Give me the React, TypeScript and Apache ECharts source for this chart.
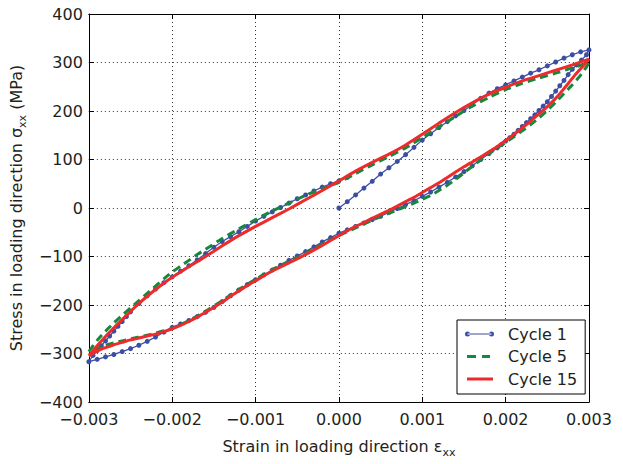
import React, { useEffect, useRef } from "react";
import * as echarts from "echarts";

// Strain (x) / stress MPa (y) readings, in path order
const cycle1: number[][] = [
  [0, 0], [0.0001, 13], [0.0002, 27], [0.0003, 41], [0.0004, 55], [0.0005, 70], [0.0006, 83], [0.0007, 96],
  [0.0008, 110], [0.0009, 125], [0.001, 140], [0.0011, 153], [0.0012, 166], [0.0013, 178], [0.0014, 190],
  [0.0015, 201], [0.0016, 213], [0.0017, 226], [0.0018, 237], [0.0019, 246], [0.002, 254], [0.0021, 262],
  [0.0022, 270], [0.0023, 278], [0.0024, 285], [0.0025, 293], [0.0026, 301], [0.0027, 309], [0.0028, 316],
  [0.0029, 322], [0.003, 326],
  [0.00297, 316], [0.00291, 305], [0.00285, 295], [0.0028, 286], [0.00275, 275], [0.0027, 263], [0.00265, 252],
  [0.0026, 241], [0.00255, 230], [0.0025, 219], [0.00245, 210], [0.0024, 201], [0.00235, 192], [0.0023, 184],
  [0.00225, 176], [0.0022, 168], [0.00215, 160], [0.0021, 152], [0.00205, 145], [0.002, 138], [0.00195, 131],
  [0.0019, 124], [0.0018, 112], [0.0017, 100], [0.0016, 87], [0.0015, 75], [0.0014, 64], [0.0013, 53],
  [0.0012, 43], [0.0011, 33], [0.001, 24], [0.0009, 15], [0.0008, 7], [0.0007, -1], [0.0006, -9],
  [0.0005, -17], [0.0004, -24], [0.0003, -31], [0.0002, -38], [0.0001, -45], [0, -52],
  [-0.0001, -61], [-0.0002, -70], [-0.0003, -80], [-0.0004, -90], [-0.0005, -99], [-0.0006, -108],
  [-0.0007, -118], [-0.0008, -128], [-0.0009, -138], [-0.001, -148], [-0.0011, -158], [-0.0012, -169],
  [-0.0013, -181], [-0.0014, -193], [-0.0015, -205], [-0.0016, -215], [-0.0017, -224], [-0.0018, -232],
  [-0.0019, -239], [-0.002, -246], [-0.0021, -256], [-0.0022, -266], [-0.0023, -275], [-0.0024, -283],
  [-0.0025, -290], [-0.0026, -296], [-0.0027, -302], [-0.0028, -307], [-0.0029, -312], [-0.003, -317],
  [-0.00295, -304], [-0.0029, -294], [-0.00285, -284], [-0.0028, -274], [-0.00275, -264], [-0.0027, -254],
  [-0.00265, -244], [-0.0026, -234], [-0.00255, -224], [-0.0025, -214], [-0.0024, -197], [-0.0023, -181],
  [-0.0022, -167], [-0.0021, -154], [-0.002, -142], [-0.0019, -130], [-0.0018, -119], [-0.0017, -107],
  [-0.0016, -94], [-0.0015, -81], [-0.0014, -69], [-0.0013, -59], [-0.0012, -49], [-0.0011, -38],
  [-0.001, -27], [-0.0009, -17], [-0.0008, -8], [-0.0007, 1], [-0.0006, 10], [-0.0005, 19], [-0.0004, 27],
  [-0.0003, 35], [-0.0002, 43], [-0.0001, 50], [0, 56], [0.0001, 63],
];

const cycle5: number[][] = [
  [-0.003, -296], [-0.0029, -273], [-0.0028, -254], [-0.0027, -237], [-0.0026, -221], [-0.0025, -206],
  [-0.0024, -191], [-0.0023, -176], [-0.0022, -161], [-0.0021, -146], [-0.002, -132], [-0.0019, -120],
  [-0.0018, -108], [-0.0017, -96], [-0.0016, -85], [-0.0014, -63], [-0.0012, -43], [-0.001, -24],
  [-0.0008, -6], [-0.0006, 10], [-0.0004, 26], [-0.0002, 40], [0, 53], [0.0002, 71], [0.0004, 89],
  [0.0006, 106], [0.0008, 124], [0.001, 145], [0.0012, 167], [0.0014, 189], [0.0016, 210], [0.0018, 228],
  [0.002, 244], [0.0022, 257], [0.0024, 268], [0.0026, 278], [0.0028, 289], [0.003, 300],
  [0.00297, 291], [0.0029, 274], [0.0028, 254], [0.0027, 236], [0.0026, 218], [0.0025, 201], [0.0024, 186],
  [0.0023, 172], [0.0022, 159], [0.0021, 147], [0.002, 135], [0.0019, 124], [0.0018, 112], [0.0017, 99],
  [0.0016, 86], [0.0015, 72], [0.0014, 59], [0.0013, 47], [0.0012, 36], [0.0011, 26], [0.001, 18],
  [0.0009, 10], [0.0008, 3], [0.0007, -4], [0.0006, -11], [0.0005, -18], [0.0004, -25], [0.0003, -33],
  [0.0002, -41], [0.0001, -49], [0, -57], [-0.0002, -74], [-0.0004, -93], [-0.0006, -110], [-0.0008, -127],
  [-0.001, -147], [-0.0012, -168], [-0.0014, -191], [-0.0016, -213], [-0.0018, -232], [-0.002, -248],
  [-0.0022, -258], [-0.0024, -266], [-0.0026, -274], [-0.0028, -283], [-0.003, -296],
];

const cycle15: number[][] = [
  [-0.003, -305], [-0.0029, -284], [-0.0028, -265], [-0.0027, -247], [-0.0026, -230], [-0.0025, -213],
  [-0.0024, -197], [-0.0023, -182], [-0.0022, -168], [-0.0021, -155], [-0.002, -143], [-0.0019, -132],
  [-0.0018, -121], [-0.0017, -111], [-0.0016, -100], [-0.0014, -78], [-0.0012, -57], [-0.001, -38],
  [-0.0008, -20], [-0.0006, -2], [-0.0004, 17], [-0.0002, 36], [0, 56], [0.0002, 76], [0.0004, 94],
  [0.0006, 111], [0.0008, 130], [0.001, 152], [0.0012, 175], [0.0014, 197], [0.0016, 217], [0.0018, 235],
  [0.002, 249], [0.0022, 262], [0.0024, 273], [0.0026, 284], [0.0028, 295], [0.003, 307],
  [0.00293, 293], [0.00285, 278], [0.00277, 261], [0.00269, 244], [0.0026, 226], [0.0025, 209],
  [0.0024, 194], [0.0023, 179], [0.0022, 165], [0.0021, 152], [0.002, 139], [0.0019, 127], [0.0018, 116],
  [0.0017, 105], [0.0016, 95], [0.0015, 85], [0.0014, 74], [0.0013, 63], [0.0012, 52], [0.0011, 42],
  [0.001, 32], [0.0009, 22], [0.0008, 13], [0.0007, 4], [0.0006, -5], [0.0005, -13], [0.0004, -21],
  [0.0003, -30], [0.0002, -38], [0.0001, -47], [0, -57], [-0.0002, -77], [-0.0004, -96], [-0.0006, -113],
  [-0.0008, -130], [-0.001, -150], [-0.0011, -160], [-0.0012, -171], [-0.0013, -182], [-0.0014, -194],
  [-0.0015, -205], [-0.0016, -215], [-0.0017, -225], [-0.0018, -234], [-0.0019, -242], [-0.002, -249],
  [-0.0021, -255], [-0.0022, -260], [-0.0023, -264], [-0.0024, -268], [-0.0025, -272], [-0.0026, -277],
  [-0.0027, -282], [-0.0028, -288], [-0.0029, -295], [-0.003, -305],
];

const seriesNames = ["Cycle 1", "Cycle 5", "Cycle 15"];
const xTitle = "Strain in loading direction ε";
const yTitle = "Stress in loading direction σ";

const BLUE = "#3b4ea3";
const GREEN = "#16873c";
const RED = "#ee2b2b";
const FONT = "DejaVu Sans";
const TXT = "#231f20";

const BOX = "M0,0 L0,0 M38,8 L38,8 ";
const ICON_BLUE =
  "path://" + BOX +
  "M0,4 A2.5,2.5 0 1 0 5,4 A2.5,2.5 0 1 0 0,4 Z M24,4 A2.5,2.5 0 1 0 29,4 A2.5,2.5 0 1 0 24,4 Z M2.5,3.4 L26.5,3.4 L26.5,4.6 L2.5,4.6 Z";
const ICON_GREEN = "path://" + BOX + "M2,2.5 L11,2.5 L11,5.5 L2,5.5 Z M17,2.5 L25,2.5 L25,5.5 L17,5.5 Z";
const ICON_RED = "path://" + BOX + "M2,2.5 L28,2.5 L28,5.5 L2,5.5 Z";

const minus = (s: string) => s.replace("-", "\u2212");

export default function App() {
  const ref = useRef<HTMLDivElement>(null);
  useEffect(() => {
    if (!ref.current) return;
    const chart = echarts.init(ref.current, null, { renderer: "svg" });
    const splitLine = { show: true, lineStyle: { type: [1, 3] as any, color: "#333", width: 1 } };
    const tick = { show: true, inside: true, length: 5, lineStyle: { color: "#000" } };
    const line = { show: true, onZero: false, lineStyle: { color: "#000", width: 1 } };
    const rich = {
      a: { fontSize: 16, color: TXT, fontFamily: FONT, verticalAlign: "top", lineHeight: 18 },
      s: { fontSize: 11, color: TXT, fontFamily: FONT, verticalAlign: "top", lineHeight: 12, padding: [9, 0, 0, 0] },
    };
    chart.setOption({
      animation: false,
      textStyle: { fontFamily: FONT },
      grid: { left: 86, top: 14, width: 503, height: 388 },
      xAxis: [
        {
          type: "value", min: -0.003, max: 0.003, interval: 0.001, position: "bottom",
          axisLine: line, axisTick: tick, splitLine,
          axisLabel: {
            margin: 9, fontSize: 16, color: TXT, fontFamily: FONT,
            formatter: (v: number) => minus(Math.abs(v) < 1e-12 ? "0.000" : v.toFixed(3)),
          },
          name: `{a|${xTitle}}{s|xx}`, nameLocation: "middle", nameGap: 36,
          nameTextStyle: { rich },
        },
        {
          type: "value", min: -0.003, max: 0.003, interval: 0.001, position: "top",
          axisLine: line, axisTick: tick, splitLine: { show: false }, axisLabel: { show: false },
        },
      ],
      yAxis: [
        {
          type: "value", min: -400, max: 400, interval: 100, position: "left",
          axisLine: line, axisTick: tick, splitLine,
          axisLabel: {
            margin: 6, fontSize: 16, color: TXT, fontFamily: FONT,
            formatter: (v: number) => minus(String(v)),
          },
          name: `{a|${yTitle}}{s|xx}{a| (MPa)}`, nameLocation: "middle", nameGap: 52,
          nameTextStyle: { rich },
        },
        {
          type: "value", min: -400, max: 400, interval: 100, position: "right",
          axisLine: line, axisTick: tick, splitLine: { show: false }, axisLabel: { show: false },
        },
      ],
      legend: {
        orient: "vertical", left: 457, top: 320,
        padding: [6, 8, 7, 8], itemGap: 6.5, itemWidth: 38, itemHeight: 8,
        borderColor: "#000", borderWidth: 1, backgroundColor: "#fff",
        textStyle: { fontSize: 16, color: TXT, fontFamily: FONT },
        data: [
          { name: seriesNames[0], icon: ICON_BLUE },
          { name: seriesNames[1], icon: ICON_GREEN },
          { name: seriesNames[2], icon: ICON_RED },
        ],
      },
      series: [
        {
          name: seriesNames[0], type: "line", data: cycle1, xAxisIndex: 0, yAxisIndex: 0,
          symbol: "circle", symbolSize: 5, showSymbol: true, showAllSymbol: true,
          lineStyle: { color: BLUE, width: 1.3 }, itemStyle: { color: BLUE }, z: 2,
        },
        {
          name: seriesNames[1], type: "line", data: cycle5, xAxisIndex: 0, yAxisIndex: 0,
          symbol: "none", smooth: 0.2,
          lineStyle: { color: GREEN, width: 3, type: [8, 5] as any }, itemStyle: { color: GREEN }, z: 3,
        },
        {
          name: seriesNames[2], type: "line", data: cycle15, xAxisIndex: 0, yAxisIndex: 0,
          symbol: "none", smooth: 0.2,
          lineStyle: { color: RED, width: 3 }, itemStyle: { color: RED }, z: 4,
        },
      ],
    });
    return () => chart.dispose();
  }, []);
  return (
    <div
      ref={ref}
      style={{ position: "absolute", left: 0, top: 0, width: 623, height: 464, background: "#fff" }}
    />
  );
}
